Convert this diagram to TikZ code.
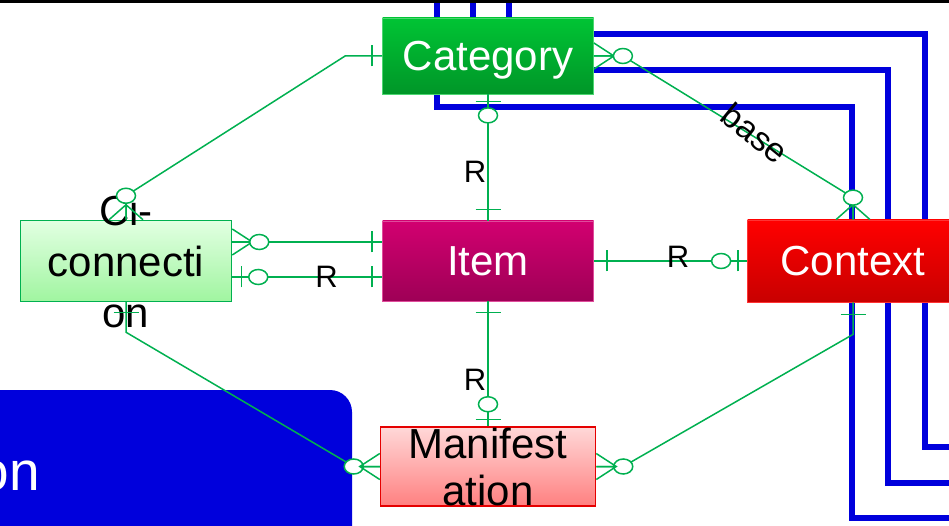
\documentclass[tikz,border=0pt]{standalone}
\usepackage{fontspec}
\setmainfont{Liberation Sans}
\usetikzlibrary{calc}

\definecolor{ergreen}{RGB}{0,176,80}
\definecolor{linkblue}{RGB}{0,0,220}
\definecolor{cattop}{RGB}{0,196,52}
\definecolor{catbot}{RGB}{0,150,40}
\definecolor{itemtop}{RGB}{210,0,112}
\definecolor{itembot}{RGB}{158,0,86}
\definecolor{ctxtop}{RGB}{255,0,0}
\definecolor{ctxbot}{RGB}{200,0,0}
\definecolor{cictop}{RGB}{226,255,226}
\definecolor{cicbot}{RGB}{160,245,160}
\definecolor{mantop}{RGB}{255,216,216}
\definecolor{manbot}{RGB}{255,128,128}

\begin{document}
\begin{tikzpicture}[x=1pt, y=1pt,
    entity/.style={minimum width=211pt, minimum height=80pt, inner sep=0pt,
        font=\fontsize{42}{51}\selectfont},
    oneline/.style={text height=30pt, text depth=0pt, text=white},
    erline/.style={ergreen, line width=1.5pt},
    rlabel/.style={font=\fontsize{31}{31}\selectfont, inner sep=1pt, text=black},
    link/.style={linkblue, line width=6pt},
    pics/crowh/.style={code={\draw[erline] (0,13) -- (20,0) -- (0,-13) (0,0) -- (20,0);}},
    pics/crowv/.style={code={\draw[erline] (-17,0) -- (0,15) -- (17,0) (0,0) -- (0,15);}},
    pics/barh/.style={code={\draw[erline] (0,-10.5) -- (0,10.5);}},
    pics/barv/.style={code={\draw[erline] (-12.5,0) -- (12.5,0);}},
    pics/ring/.style={code={\draw[erline, fill=white] (0,0) ellipse [x radius=9.5, y radius=7.5];}}
]

    \useasboundingbox (0,0) rectangle (949,525);

    % Blue links in the background
    \draw[link] (437,530) |- (852,418) |- (960,7);
    \draw[link] (473,530) |- (888,455) |- (960,42);
    \draw[link] (509,530) |- (925,491) |- (960,78);

    \fill[linkblue, rounded corners=22pt] (-40,-40) rectangle (352,135);
    \node[anchor=base east, inner sep=0pt, text=white, font=\fontsize{55}{55}\selectfont] (on) at (40,35) {on};

    % Entities
    \node[entity, oneline, minimum height=76pt, top color=cattop, bottom color=catbot, draw=cattop!70!white, line width=0.8pt] (cat) at (488,469) {Category};
    \node[entity, oneline, top color=itemtop, bottom color=itembot, draw=itemtop!70!white, line width=0.8pt] (item) at (488,264) {Item};
    \node[entity, oneline, minimum height=82pt, top color=ctxtop, bottom color=ctxbot, draw=ctxtop!80!white, line width=0.8pt] (ctx) at (853,264) {Context};
    \node[entity, minimum height=81pt, top color=cictop, bottom color=cicbot, draw=ergreen, line width=1.5pt] (cic) at (126,264) {};
    \node[align=center, inner sep=0pt, font=\fontsize{42}{51}\selectfont] (cictext) at (cic.center) {Ci-\\connecti\\on};
    \node[entity, align=center, minimum width=215pt, minimum height=79pt, font=\fontsize{42}{47}\selectfont, top color=mantop, bottom color=manbot, draw=red!90!black, line width=1.5pt] (man) at (488,58.5) {Manifest\\ation};

    % Category -- Ci-connection
    \draw[erline] (cat.west) -- ++(-37,0) -- ($(cic.north)+(0,24)$) -- (cic.north);
    \pic at ([xshift=-10pt]cat.west) {barh};
    \pic at (cic.north) {crowv};
    \pic at ($(cic.north)+(0,24)$) {ring};

    % Category -- Item
    \draw[erline] (cat.south) -- (item.north) node[rlabel, pos=0.61, anchor=east] (r1) {R};
    \pic at ([yshift=-7pt]cat.south) {barv};
    \pic at ([yshift=-21pt]cat.south) {ring};
    \pic at ([yshift=11pt]item.north) {barv};

    % Category -- Context
    \draw[erline] (cat.east) -- ++(29,0) -- ($(ctx.north)+(0,22)$) -- (ctx.north);
    \node[rlabel, font=\fontsize{34}{34}\selectfont, rotate=-39] (base) at (755,392) {base};
    \pic at (cat.east) {crowh};
    \pic at ($(cat.east)+(29,0)$) {ring};
    \pic at (ctx.north) {crowv};
    \pic at ($(ctx.north)+(0,22)$) {ring};

    % Ci-connection -- Item
    \draw[erline] ([yshift=19pt]cic.east) -- ([yshift=19pt]item.west);
    \pic at ([yshift=19pt]cic.east) {crowh};
    \pic at ([shift={(27,19)}]cic.east) {ring};
    \pic at ([shift={(-10,19)}]item.west) {barh};

    \draw[erline] ([yshift=-16pt]cic.east) -- ([yshift=-16pt]item.west) node[rlabel, pos=0.63] (r2) {R};
    \pic at ([shift={(9,-16)}]cic.east) {barh};
    \pic at ([shift={(26,-16)}]cic.east) {ring};
    \pic at ([shift={(-10,-16)}]item.west) {barh};

    % Item -- Context
    \draw[erline] (item.east) -- (ctx.west) node[rlabel, pos=0.55, yshift=4pt] (r3) {R};
    \pic at ([xshift=13pt]item.east) {barh};
    \pic at ([xshift=-26pt]ctx.west) {ring};
    \pic at ([xshift=-9pt]ctx.west) {barh};

    % Item -- Manifestation
    \draw[erline] (item.south) -- (man.north) node[rlabel, pos=0.63, anchor=east] (r4) {R};
    \pic at ([yshift=-11pt]item.south) {barv};
    \pic at ([yshift=22pt]man.north) {ring};
    \pic at ([yshift=7pt]man.north) {barv};

    % Ci-connection -- Manifestation
    \draw[erline] (cic.south) -- ++(0,-30) -- ($(man.west)+(-26,0)$) -- (man.west);
    \pic at ([yshift=-10pt]cic.south) {barv};
    \pic at ($(man.west)+(-26,0)$) {ring};
    \pic[xscale=-1] at (man.west) {crowh};

    % Context -- Manifestation
    \draw[erline] (ctx.south) -- ++(0,-32) -- ($(man.east)+(27,0)$) -- (man.east);
    \pic at ([yshift=-12pt]ctx.south) {barv};
    \pic at ($(man.east)+(27,0)$) {ring};
    \pic at (man.east) {crowh};

    % Top rule
    \draw[line width=3pt] (-5,523) -- (955,523);

\end{tikzpicture}
\end{document}
